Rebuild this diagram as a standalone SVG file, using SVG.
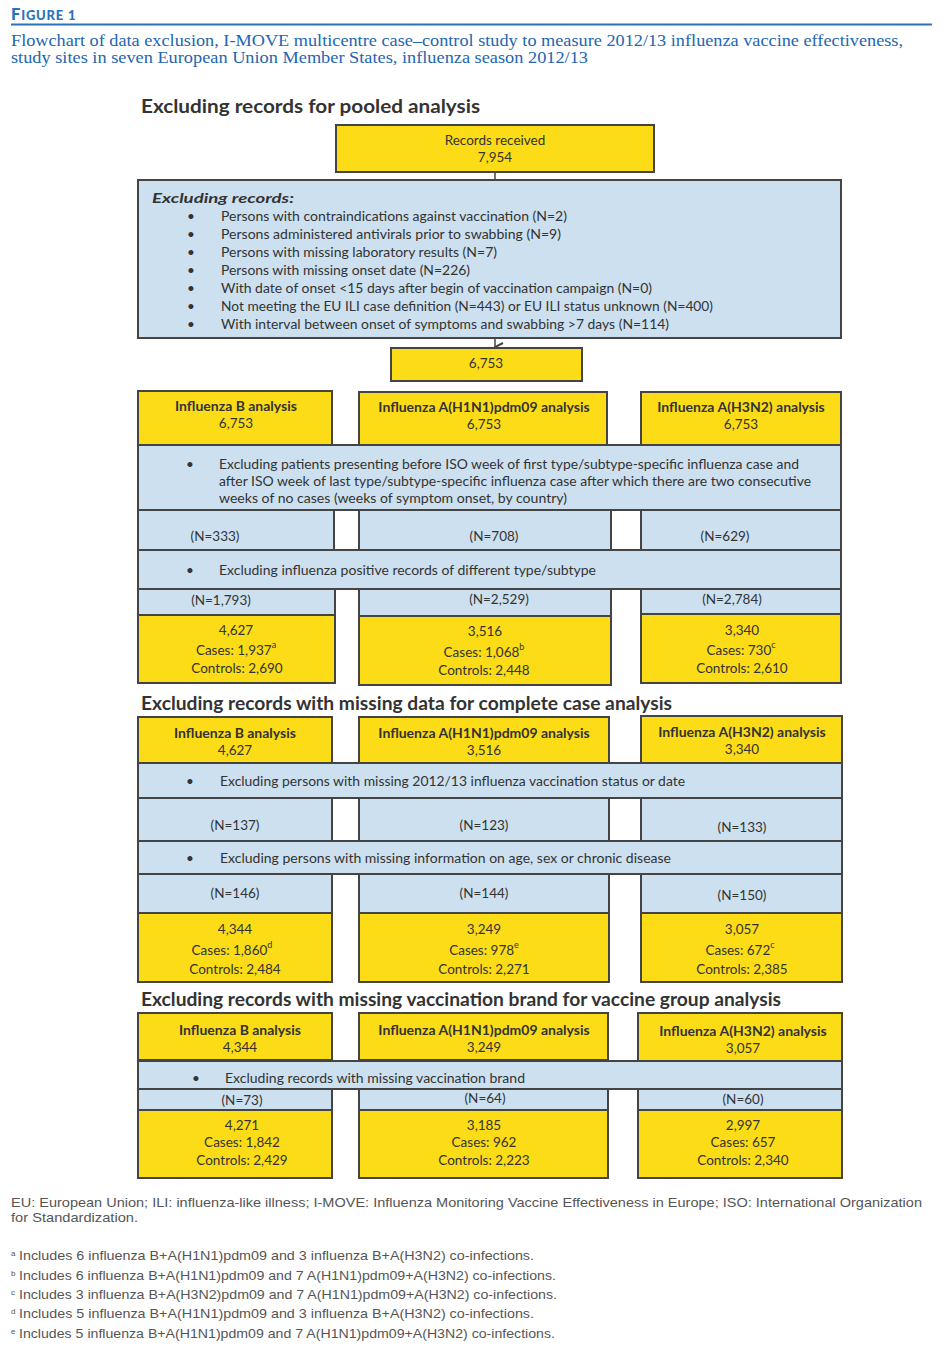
<svg xmlns="http://www.w3.org/2000/svg" width="946" height="1347" viewBox="0 0 946 1347">
<defs>
<style>
.y{fill:#FCDC16;stroke:#444;stroke-width:2}
.b{fill:#CCE0F0;stroke:#444;stroke-width:2}
.t{font-family:Lato,"Liberation Sans",sans-serif;font-size:13.5px;fill:#333}
.c{text-anchor:middle}
.bo{font-weight:bold;font-size:14px}
.h{font-family:Lato,"Liberation Sans",sans-serif;font-size:19px;font-weight:bold;fill:#333}
.f{font-family:"Liberation Sans",sans-serif;font-size:13.5px;fill:#555}
.sup{font-size:9px}
.conn{stroke:#444;stroke-width:1.5;fill:none}
</style>
<marker id="arr" viewBox="0 0 10 10" refX="5" refY="9" markerWidth="10" markerHeight="10" markerUnits="userSpaceOnUse" orient="auto">
<path d="M1,1 L5,9 L9,1" fill="none" stroke="#444" stroke-width="2"/>
</marker>
</defs>
<rect width="946" height="1347" fill="#fff"/>

<g id="header">
<text x="11" y="20" font-family="Lato,'Liberation Sans',sans-serif" font-weight="900" font-size="16.5" fill="#2A72BC" letter-spacing="0.8">F<tspan font-size="13">IGURE 1</tspan></text>
<line x1="11" y1="24.5" x2="932" y2="24.5" stroke="#2A72BC" stroke-width="2"/>
<text x="11" y="46" font-family="'Liberation Serif',serif" font-size="17" fill="#2366B1" textLength="892" lengthAdjust="spacingAndGlyphs">Flowchart of data exclusion, I-MOVE multicentre case–control study to measure 2012/13 influenza vaccine effectiveness,</text>
<text x="11" y="63" font-family="'Liberation Serif',serif" font-size="17" fill="#2366B1" textLength="577" lengthAdjust="spacingAndGlyphs">study sites in seven European Union Member States, influenza season 2012/13</text>
</g>

<text class="h" x="141" y="113" textLength="339" lengthAdjust="spacingAndGlyphs">Excluding records for pooled analysis</text>
<text class="h" x="141" y="710" textLength="531" lengthAdjust="spacingAndGlyphs">Excluding records with missing data for complete case analysis</text>
<text class="h" x="141" y="1006" textLength="640" lengthAdjust="spacingAndGlyphs">Excluding records with missing vaccination brand for vaccine group analysis</text>

<g id="connectors">
<line class="conn" x1="495" y1="172" x2="495" y2="180"/>
<line class="conn" x1="495" y1="338" x2="495" y2="347" marker-end="url(#arr)"/>
</g>

<g id="records-received">
<rect class="y" x="336" y="125" width="318" height="47"/>
<text class="t c" x="495" y="145">Records received</text>
<text class="t c" x="495" y="162">7,954</text>
</g>

<g id="excluding-records">
<rect class="b" x="138" y="180" width="703" height="158"/>
<text class="t" x="152" y="203" font-size="16.5" font-weight="bold" font-style="italic" textLength="142" lengthAdjust="spacingAndGlyphs">Excluding records:</text>
<g class="t">
<text x="187" y="221">•</text><text x="221" y="221" textLength="346" lengthAdjust="spacingAndGlyphs">Persons with contraindications against vaccination (N=2)</text>
<text x="187" y="239">•</text><text x="221" y="239" textLength="340" lengthAdjust="spacingAndGlyphs">Persons administered antivirals prior to swabbing (N=9)</text>
<text x="187" y="257">•</text><text x="221" y="257" textLength="276" lengthAdjust="spacingAndGlyphs">Persons with missing laboratory results (N=7)</text>
<text x="187" y="275">•</text><text x="221" y="275" textLength="249" lengthAdjust="spacingAndGlyphs">Persons with missing onset date (N=226)</text>
<text x="187" y="293">•</text><text x="221" y="293" textLength="431" lengthAdjust="spacingAndGlyphs">With date of onset &lt;15 days after begin of vaccination campaign (N=0)</text>
<text x="187" y="311">•</text><text x="221" y="311" textLength="492" lengthAdjust="spacingAndGlyphs">Not meeting the EU ILI case definition (N=443) or EU ILI status unknown (N=400)</text>
<text x="187" y="329">•</text><text x="221" y="329" textLength="448" lengthAdjust="spacingAndGlyphs">With interval between onset of symptoms and swabbing &gt;7 days (N=114)</text>
</g>
</g>

<g id="pooled-6753">
<rect class="y" x="391" y="348" width="191" height="33"/>
<text class="t c" x="486" y="368">6,753</text>
</g>

<!-- Section 1 -->
<g id="s1-B">
<rect class="y" x="138" y="391" width="194" height="54"/>
<text class="t c bo" x="236" y="411">Influenza B analysis</text>
<text class="t c" x="236" y="428">6,753</text>
</g>
<g id="s1-H1">
<rect class="y" x="359" y="392" width="248" height="53"/>
<text class="t c bo" x="484" y="412">Influenza A(H1N1)pdm09 analysis</text>
<text class="t c" x="484" y="429">6,753</text>
</g>
<g id="s1-H3">
<rect class="y" x="641" y="392" width="200" height="53"/>
<text class="t c bo" x="741" y="412">Influenza A(H3N2) analysis</text>
<text class="t c" x="741" y="429">6,753</text>
</g>
<g id="s1-excl1">
<rect class="b" x="138" y="445" width="703" height="65"/>
<text class="t" x="186" y="469">•</text>
<text class="t" x="219" y="469" textLength="580" lengthAdjust="spacingAndGlyphs">Excluding patients presenting before ISO week of first type/subtype-specific influenza case and</text>
<text class="t" x="219" y="486" textLength="592" lengthAdjust="spacingAndGlyphs">after ISO week of last type/subtype-specific influenza case after which there are two consecutive</text>
<text class="t" x="219" y="503" textLength="348" lengthAdjust="spacingAndGlyphs">weeks of no cases (weeks of symptom onset, by country)</text>
</g>
<g id="s1-n1">
<rect class="b" x="138" y="510" width="196" height="40"/>
<rect class="b" x="359" y="510" width="252" height="40"/>
<rect class="b" x="641" y="510" width="200" height="40"/>
<text class="t c" x="215" y="541">(N=333)</text>
<text class="t c" x="494" y="541">(N=708)</text>
<text class="t c" x="725" y="541">(N=629)</text>
</g>
<g id="s1-excl2">
<rect class="b" x="138" y="550" width="703" height="39"/>
<text class="t" x="186" y="575">•</text>
<text class="t" x="219" y="575" textLength="377" lengthAdjust="spacingAndGlyphs">Excluding influenza positive records of different type/subtype</text>
</g>
<g id="s1-n2">
<rect class="b" x="138" y="589" width="197" height="26"/>
<rect class="b" x="359" y="589" width="252" height="27"/>
<rect class="b" x="641" y="589" width="200" height="25"/>
<text class="t c" x="221" y="605">(N=1,793)</text>
<text class="t c" x="499" y="604">(N=2,529)</text>
<text class="t c" x="732" y="604">(N=2,784)</text>
</g>
<g id="s1-rB">
<rect class="y" x="138" y="615" width="197" height="68"/>
<text class="t c" x="236" y="635">4,627</text>
<text class="t c" x="236" y="655">Cases: 1,937<tspan class="sup" dy="-7">a</tspan></text>
<text class="t c" x="237" y="673">Controls: 2,690</text>
</g>
<g id="s1-rH1">
<rect class="y" x="359" y="616" width="252" height="69"/>
<text class="t c" x="485" y="636">3,516</text>
<text class="t c" x="484" y="657">Cases: 1,068<tspan class="sup" dy="-7">b</tspan></text>
<text class="t c" x="484" y="675">Controls: 2,448</text>
</g>
<g id="s1-rH3">
<rect class="y" x="641" y="614" width="200" height="69"/>
<text class="t c" x="742" y="635">3,340</text>
<text class="t c" x="741" y="655">Cases: 730<tspan class="sup" dy="-7">c</tspan></text>
<text class="t c" x="742" y="673">Controls: 2,610</text>
</g>

<!-- Section 2 -->
<g id="s2-B">
<rect class="y" x="138" y="717" width="194" height="46"/>
<text class="t c bo" x="235" y="738">Influenza B analysis</text>
<text class="t c" x="235" y="755">4,627</text>
</g>
<g id="s2-H1">
<rect class="y" x="359" y="717" width="250" height="46"/>
<text class="t c bo" x="484" y="738">Influenza A(H1N1)pdm09 analysis</text>
<text class="t c" x="484" y="755">3,516</text>
</g>
<g id="s2-H3">
<rect class="y" x="641" y="716" width="201" height="47"/>
<text class="t c bo" x="742" y="737">Influenza A(H3N2) analysis</text>
<text class="t c" x="742" y="754">3,340</text>
</g>
<g id="s2-excl1">
<rect class="b" x="138" y="763" width="704" height="35"/>
<text class="t" x="186" y="786">•</text>
<text class="t" x="220" y="786" textLength="465" lengthAdjust="spacingAndGlyphs">Excluding persons with missing 2012/13 influenza vaccination status or date</text>
</g>
<g id="s2-n1">
<rect class="b" x="138" y="798" width="194" height="43"/>
<rect class="b" x="359" y="798" width="250" height="43"/>
<rect class="b" x="641" y="798" width="201" height="43"/>
<text class="t c" x="235" y="830">(N=137)</text>
<text class="t c" x="484" y="830">(N=123)</text>
<text class="t c" x="742" y="832">(N=133)</text>
</g>
<g id="s2-excl2">
<rect class="b" x="138" y="841" width="704" height="33"/>
<text class="t" x="186" y="863">•</text>
<text class="t" x="220" y="863" textLength="451" lengthAdjust="spacingAndGlyphs">Excluding persons with missing information on age, sex or chronic disease</text>
</g>
<g id="s2-n2">
<rect class="b" x="138" y="874" width="194" height="39"/>
<rect class="b" x="359" y="874" width="250" height="39"/>
<rect class="b" x="641" y="874" width="201" height="39"/>
<text class="t c" x="235" y="898">(N=146)</text>
<text class="t c" x="484" y="898">(N=144)</text>
<text class="t c" x="742" y="900">(N=150)</text>
</g>
<g id="s2-rB">
<rect class="y" x="138" y="913" width="194" height="69"/>
<text class="t c" x="235" y="934">4,344</text>
<text class="t c" x="232" y="955">Cases: 1,860<tspan class="sup" dy="-7">d</tspan></text>
<text class="t c" x="235" y="974">Controls: 2,484</text>
</g>
<g id="s2-rH1">
<rect class="y" x="359" y="913" width="250" height="69"/>
<text class="t c" x="484" y="934">3,249</text>
<text class="t c" x="484" y="955">Cases: 978<tspan class="sup" dy="-7">e</tspan></text>
<text class="t c" x="484" y="974">Controls: 2,271</text>
</g>
<g id="s2-rH3">
<rect class="y" x="641" y="913" width="201" height="69"/>
<text class="t c" x="742" y="934">3,057</text>
<text class="t c" x="740" y="955">Cases: 672<tspan class="sup" dy="-7">c</tspan></text>
<text class="t c" x="742" y="974">Controls: 2,385</text>
</g>

<!-- Section 3 -->
<g id="s3-B">
<rect class="y" x="138" y="1013" width="194" height="47"/>
<text class="t c bo" x="240" y="1035">Influenza B analysis</text>
<text class="t c" x="240" y="1052">4,344</text>
</g>
<g id="s3-H1">
<rect class="y" x="359" y="1013" width="249" height="47"/>
<text class="t c bo" x="484" y="1035">Influenza A(H1N1)pdm09 analysis</text>
<text class="t c" x="484" y="1052">3,249</text>
</g>
<g id="s3-H3">
<rect class="y" x="638" y="1013" width="204" height="48"/>
<text class="t c bo" x="743" y="1036">Influenza A(H3N2) analysis</text>
<text class="t c" x="743" y="1053">3,057</text>
</g>
<g id="s3-excl">
<rect class="b" x="138" y="1061" width="704" height="28"/>
<text class="t" x="192" y="1083">•</text>
<text class="t" x="225" y="1083" textLength="300" lengthAdjust="spacingAndGlyphs">Excluding records with missing vaccination brand</text>
</g>
<g id="s3-n">
<rect class="b" x="138" y="1089" width="194" height="21"/>
<rect class="b" x="359" y="1089" width="249" height="21"/>
<rect class="b" x="638" y="1089" width="204" height="21"/>
<text class="t c" x="242" y="1105">(N=73)</text>
<text class="t c" x="485" y="1103">(N=64)</text>
<text class="t c" x="743" y="1104">(N=60)</text>
</g>
<g id="s3-rB">
<rect class="y" x="138" y="1110" width="194" height="68"/>
<text class="t c" x="242" y="1130">4,271</text>
<text class="t c" x="242" y="1147">Cases: 1,842</text>
<text class="t c" x="242" y="1165">Controls: 2,429</text>
</g>
<g id="s3-rH1">
<rect class="y" x="359" y="1110" width="249" height="68"/>
<text class="t c" x="484" y="1130">3,185</text>
<text class="t c" x="484" y="1147">Cases: 962</text>
<text class="t c" x="484" y="1165">Controls: 2,223</text>
</g>
<g id="s3-rH3">
<rect class="y" x="638" y="1110" width="204" height="68"/>
<text class="t c" x="743" y="1130">2,997</text>
<text class="t c" x="743" y="1147">Cases: 657</text>
<text class="t c" x="743" y="1165">Controls: 2,340</text>
</g>

<g id="footer" class="f">
<text x="11" y="1207" textLength="911" lengthAdjust="spacingAndGlyphs">EU: European Union; ILI: influenza-like illness; I-MOVE: Influenza Monitoring Vaccine Effectiveness in Europe; ISO: International Organization</text>
<text x="11" y="1222" textLength="127" lengthAdjust="spacingAndGlyphs">for Standardization.</text>
<text x="11" y="1260"><tspan font-size="8" dy="-4">a</tspan><tspan x="19" dy="4" textLength="515" lengthAdjust="spacingAndGlyphs">Includes 6 influenza B+A(H1N1)pdm09 and 3 influenza B+A(H3N2) co-infections.</tspan></text>
<text x="11" y="1280"><tspan font-size="8" dy="-4">b</tspan><tspan x="19" dy="4" textLength="537" lengthAdjust="spacingAndGlyphs">Includes 6 influenza B+A(H1N1)pdm09 and 7 A(H1N1)pdm09+A(H3N2) co-infections.</tspan></text>
<text x="11" y="1299"><tspan font-size="8" dy="-4">c</tspan><tspan x="19" dy="4" textLength="538" lengthAdjust="spacingAndGlyphs">Includes 3 influenza B+A(H3N2)pdm09 and 7 A(H1N1)pdm09+A(H3N2) co-infections.</tspan></text>
<text x="11" y="1318"><tspan font-size="8" dy="-4">d</tspan><tspan x="19" dy="4" textLength="515" lengthAdjust="spacingAndGlyphs">Includes 5 influenza B+A(H1N1)pdm09 and 3 influenza B+A(H3N2) co-infections.</tspan></text>
<text x="11" y="1338"><tspan font-size="8" dy="-4">e</tspan><tspan x="19" dy="4" textLength="536" lengthAdjust="spacingAndGlyphs">Includes 5 influenza B+A(H1N1)pdm09 and 7 A(H1N1)pdm09+A(H3N2) co-infections.</tspan></text>
</g>
</svg>
